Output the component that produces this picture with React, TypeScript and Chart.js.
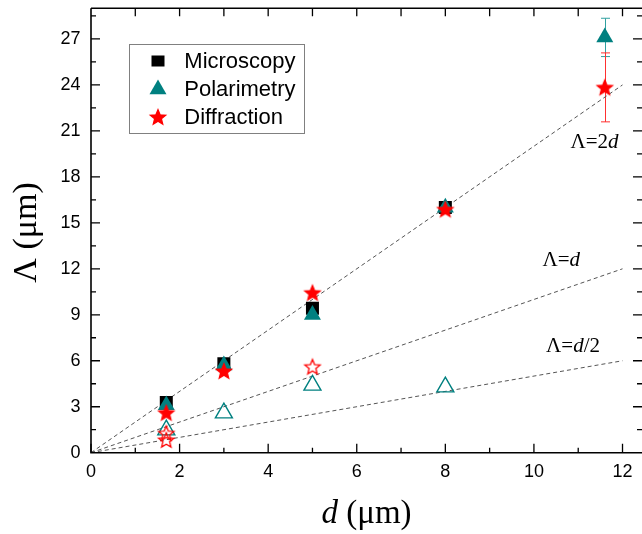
import React, { useEffect, useRef } from 'react';
import { Chart, registerables } from 'chart.js';

Chart.register(...registerables);

// ---- data (µm) ----
const microscopyD = [1.7, 3, 5, 8];
const microscopyL = [3.27, 5.8, 9.42, 16.0];

const polarimetryD = [1.7, 3, 5, 8, 11.6];
const polarimetryL = [3.1, 5.7, 9.0, 16.0, 27.1];
const polarimetryErr = [0, 0, 0, 0, 1.25];

const diffractionD = [1.7, 3, 5, 8, 11.6];
const diffractionL = [2.61, 5.33, 10.44, 15.88, 23.84];
const diffractionErr = [0, 0, 0, 0, 2.25];

const polarOpenD = [1.7, 3, 5, 8];
const polarOpenL = [1.48, 2.59, 4.4, 4.29];

const diffOpenD = [1.7, 1.7, 5];
const diffOpenL = [1.27, 0.83, 5.61];

const refLineD = [0, 12];
const refLine2d = [0, 24];
const refLine1d = [0, 12];
const refLineHalf = [0, 6];

const X_MIN = 0;
const X_MAX = 12.44;
const Y_MIN = 0;
const Y_MAX = 29;

const TEAL = '#008080';
const RED = '#ff0000';
const SANS = "'Liberation Sans', Arial, sans-serif";
const SERIF = "'Liberation Serif', 'Times New Roman', serif";

const AREA = { left: 91, top: 8.3, right: 642, bottom: 452.7 };

const zip = (xs: number[], ys: number[]) => xs.map((x, i) => ({ x, y: ys[i] }));

function makeStar(fill: string | null, stroke: string | null, R: number): HTMLCanvasElement {
  const size = Math.ceil(2 * R + 4);
  const c = document.createElement('canvas');
  c.width = size;
  c.height = size;
  const ctx = c.getContext('2d')!;
  const cx = size / 2;
  const cy = size / 2 + R * 0.08;
  const r = R * 0.44;
  ctx.beginPath();
  for (let i = 0; i < 10; i++) {
    const rad = -Math.PI / 2 + (i * Math.PI) / 5;
    const rr = i % 2 === 0 ? R : r;
    const px = cx + Math.cos(rad) * rr;
    const py = cy + Math.sin(rad) * rr;
    if (i === 0) ctx.moveTo(px, py);
    else ctx.lineTo(px, py);
  }
  ctx.closePath();
  if (fill) {
    ctx.fillStyle = fill;
    ctx.fill();
  }
  if (stroke) {
    ctx.strokeStyle = stroke;
    ctx.lineWidth = 1.3;
    ctx.lineJoin = 'miter';
    ctx.stroke();
  }
  return c;
}

type Part = { t: string; italic?: boolean };

function drawRich(ctx: CanvasRenderingContext2D, parts: Part[], x: number, y: number, size: number, align: 'left' | 'center' | 'right') {
  const fontFor = (p: Part) => `${p.italic ? 'italic ' : ''}${size}px ${SERIF}`;
  const widths = parts.map((p) => {
    ctx.font = fontFor(p);
    return ctx.measureText(p.t).width;
  });
  const total = widths.reduce((a, b) => a + b, 0);
  let cur = align === 'left' ? x : align === 'center' ? x - total / 2 : x - total;
  ctx.textAlign = 'left';
  ctx.textBaseline = 'alphabetic';
  parts.forEach((p, i) => {
    ctx.font = fontFor(p);
    ctx.fillText(p.t, cur, y);
    cur += widths[i];
  });
}

export default function App() {
  const canvasRef = useRef<HTMLCanvasElement | null>(null);

  useEffect(() => {
    document.body.style.margin = '0';
    const canvas = canvasRef.current;
    if (!canvas) return;

    const starFilled = makeStar(RED, RED, 8);
    const starOpen = makeStar(null, RED, 8);

    const fixedArea = {
      id: 'fixedArea',
      afterLayout(chart: any) {
        const { left, top, right, bottom } = AREA;
        const ca = chart.chartArea;
        ca.left = left;
        ca.top = top;
        ca.right = right;
        ca.bottom = bottom;
        ca.width = right - left;
        ca.height = bottom - top;
        const xs = chart.scales.x;
        xs.left = left;
        xs.right = right;
        xs.width = right - left;
        xs.top = bottom;
        xs.bottom = chart.height;
        xs.height = chart.height - bottom;
        xs.configure();
        const ys = chart.scales.y;
        ys.left = 0;
        ys.right = left;
        ys.width = left;
        ys.top = top;
        ys.bottom = bottom;
        ys.height = bottom - top;
        ys.configure();
      },
    };

    const errorBars = {
      id: 'errorBars',
      beforeDatasetsDraw(chart: any) {
        const ctx = chart.ctx as CanvasRenderingContext2D;
        const xs = chart.scales.x;
        const ys = chart.scales.y;
        const sets = [
          { d: polarimetryD, v: polarimetryL, e: polarimetryErr, c: '#30a0a0' },
          { d: diffractionD, v: diffractionL, e: diffractionErr, c: '#ff3030' },
        ];
        ctx.save();
        ctx.lineWidth = 1;
        sets.forEach((s) => {
          ctx.strokeStyle = s.c;
          s.d.forEach((dv, i) => {
            if (!s.e[i]) return;
            const px = Math.round(xs.getPixelForValue(dv)) + 0.5;
            const top = ys.getPixelForValue(s.v[i] + s.e[i]);
            const bot = ys.getPixelForValue(s.v[i] - s.e[i]);
            ctx.beginPath();
            ctx.moveTo(px, top);
            ctx.lineTo(px, bot);
            ctx.moveTo(px - 4.5, top);
            ctx.lineTo(px + 4.5, top);
            ctx.moveTo(px - 4.5, bot);
            ctx.lineTo(px + 4.5, bot);
            ctx.stroke();
          });
        });
        ctx.restore();
      },
    };

    const frameAndText = {
      id: 'frameAndText',
      afterDraw(chart: any) {
        const ctx = chart.ctx as CanvasRenderingContext2D;
        const { left, right, top, bottom } = chart.chartArea;
        const xs = chart.scales.x;
        const ys = chart.scales.y;
        ctx.save();
        ctx.strokeStyle = '#000';
        ctx.lineWidth = 1.6;
        ctx.beginPath();
        ctx.moveTo(left, top);
        ctx.lineTo(left, bottom);
        ctx.lineTo(642, bottom);
        ctx.moveTo(left, top);
        ctx.lineTo(642, top);
        ctx.stroke();

        ctx.lineWidth = 1.3;
        ctx.beginPath();
        for (let v = 0; v <= X_MAX + 1e-9; v += 1) {
          const px = xs.getPixelForValue(v);
          const len = v % 2 === 0 ? 9 : 5;
          ctx.moveTo(px, bottom);
          ctx.lineTo(px, bottom - len);
        }
        for (let v = 1; v <= X_MAX + 1e-9; v += 1) {
          const px = xs.getPixelForValue(v);
          ctx.moveTo(px, top);
          ctx.lineTo(px, top + 8);
        }
        for (let v = 1.5; v <= Y_MAX - 0.2; v += 1.5) {
          const py = ys.getPixelForValue(v);
          const len = Math.abs(v % 3) < 1e-9 ? 9 : 5;
          ctx.moveTo(left, py);
          ctx.lineTo(left + len, py);
          ctx.moveTo(642, py);
          ctx.lineTo(642 - len, py);
        }
        ctx.stroke();

        ctx.fillStyle = '#000';
        drawRich(ctx, [{ t: 'd', italic: true }, { t: ' (\u03bcm)' }], (left + right) / 2, 523, 33, 'center');
        ctx.save();
        ctx.translate(35.5, (top + bottom) / 2 + 2);
        ctx.rotate(-Math.PI / 2);
        drawRich(ctx, [{ t: '\u039b (\u03bcm)' }], 0, 0, 34, 'center');
        ctx.restore();

        drawRich(ctx, [{ t: '\u039b=2' }, { t: 'd', italic: true }], 618.5, 147.5, 21, 'right');
        drawRich(ctx, [{ t: '\u039b=' }, { t: 'd', italic: true }], 580, 266, 21, 'right');
        drawRich(ctx, [{ t: '\u039b=' }, { t: 'd', italic: true }, { t: '/2' }], 600, 351.7, 21, 'right');

        const lx = 129.5, ly = 44.5, lw = 175, lh = 89;
        ctx.fillStyle = '#fff';
        ctx.fillRect(lx, ly, lw, lh);
        ctx.strokeStyle = '#808080';
        ctx.lineWidth = 1;
        ctx.strokeRect(lx, ly, lw, lh);
        const items = chart.data.datasets.slice(0, 3);
        const rows = [61, 88.3, 117];
        const baselines = [67.7, 95.7, 124];
        items.forEach((ds: any, i: number) => {
          const mx = 158;
          const my = rows[i];
          if (ds.pointStyle === 'rect') {
            ctx.fillStyle = ds.backgroundColor;
            ctx.fillRect(mx - 6.5, my - 5.5, 13, 11);
          } else if (ds.pointStyle === 'triangle') {
            const r = 9.8;
            ctx.fillStyle = ds.backgroundColor;
            ctx.beginPath();
            ctx.moveTo(mx, my - r + 1);
            ctx.lineTo(mx + r * 0.866, my + r / 2 + 1);
            ctx.lineTo(mx - r * 0.866, my + r / 2 + 1);
            ctx.closePath();
            ctx.fill();
          } else if (ds.pointStyle instanceof HTMLCanvasElement) {
            const img = ds.pointStyle as HTMLCanvasElement;
            ctx.drawImage(img, mx - img.width / 2, my - img.height / 2);
          }
          ctx.fillStyle = '#000';
          ctx.font = `22px ${SANS}`;
          ctx.textAlign = 'left';
          ctx.textBaseline = 'alphabetic';
          ctx.fillText(ds.label, 184.3, baselines[i]);
        });
        ctx.restore();
      },
    };

    const lineStyle = {
      showLine: true,
      borderColor: '#555',
      borderWidth: 1,
      borderDash: [4, 3],
      pointRadius: 0,
      fill: false,
      order: 10,
    };

    const chart = new Chart(canvas, {
      type: 'scatter',
      data: {
        datasets: [
          {
            label: 'Microscopy',
            data: zip(microscopyD, microscopyL),
            pointStyle: 'rect',
            pointRadius: 9.2,
            backgroundColor: '#000',
            borderColor: '#000',
            borderWidth: 0,
            order: 2,
          },
          {
            label: 'Polarimetry',
            data: zip(polarimetryD, polarimetryL),
            pointStyle: 'triangle',
            pointRadius: 9.8,
            backgroundColor: TEAL,
            borderColor: TEAL,
            borderWidth: 0,
            order: 1,
          },
          {
            label: 'Diffraction',
            data: zip(diffractionD, diffractionL),
            pointStyle: starFilled,
            pointRadius: 8,
            backgroundColor: RED,
            borderColor: RED,
            order: 0,
          },
          {
            label: 'Polarimetry (open)',
            data: zip(polarOpenD, polarOpenL),
            pointStyle: 'triangle',
            pointRadius: 9.8,
            backgroundColor: 'rgba(0,0,0,0)',
            borderColor: TEAL,
            borderWidth: 1.4,
            order: 3,
          },
          {
            label: 'Diffraction (open)',
            data: zip(diffOpenD, diffOpenL),
            pointStyle: starOpen,
            pointRadius: 8,
            backgroundColor: 'rgba(0,0,0,0)',
            borderColor: RED,
            order: 0.5,
          },
          { label: '\u039b=2d', data: zip(refLineD, refLine2d), ...lineStyle },
          { label: '\u039b=d', data: zip(refLineD, refLine1d), ...lineStyle },
          { label: '\u039b=d/2', data: zip(refLineD, refLineHalf), ...lineStyle },
        ] as any,
      },
      options: {
        animation: false,
        responsive: false,
        events: [],
        layout: { padding: { top: 8.3, right: 0, left: 0, bottom: 0 } },
        plugins: {
          legend: { display: false },
          tooltip: { enabled: false },
          title: { display: false },
        },
        scales: {
          x: {
            type: 'linear',
            min: X_MIN,
            max: X_MAX,
            border: { display: false },
            grid: { display: false, drawTicks: false },
            afterFit: (s: any) => {
              s.height = 534 - 452.7;
              s.paddingLeft = 0;
              s.paddingRight = 0;
            },
            ticks: {
              stepSize: 2,
              includeBounds: false,
              autoSkip: false,
              maxRotation: 0,
              padding: 9,
              color: '#000',
              font: { family: SANS, size: 18 },
              callback: (v: any) => (Math.abs(Number(v) % 2) < 1e-9 ? String(v) : ''),
            },
          },
          y: {
            type: 'linear',
            min: Y_MIN,
            max: Y_MAX,
            border: { display: false },
            grid: { display: false, drawTicks: false },
            afterFit: (s: any) => {
              s.width = 91;
              s.paddingTop = 0;
              s.paddingBottom = 0;
            },
            ticks: {
              stepSize: 1.5,
              includeBounds: false,
              autoSkip: false,
              padding: 10.5,
              color: '#000',
              font: { family: SANS, size: 18 },
              callback: (v: any) => (Math.abs(Number(v) % 3) < 1e-9 ? String(v) : ''),
            },
          },
        },
      } as any,
      plugins: [fixedArea, errorBars, frameAndText],
    });

    return () => {
      chart.destroy();
    };
  }, []);

  return (
    <div style={{ width: 642, height: 534 }}>
      <canvas ref={canvasRef} width={642} height={534} style={{ display: 'block' }} />
    </div>
  );
}
